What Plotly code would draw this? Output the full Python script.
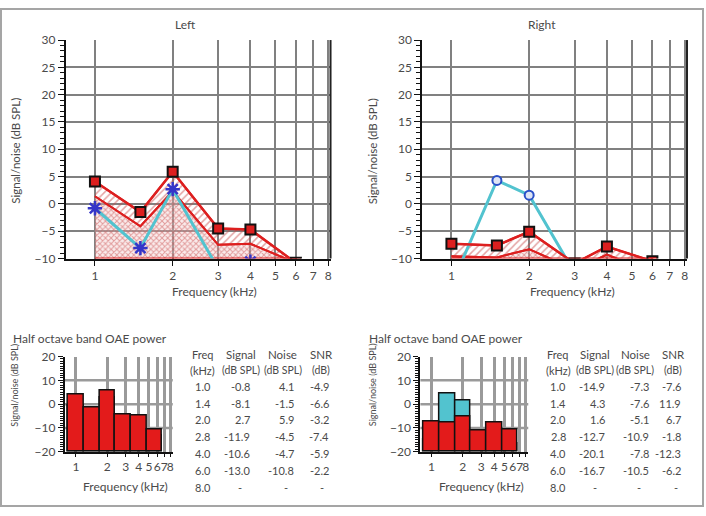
import numpy as np
import plotly.graph_objects as go

W, H = 706, 516
FONT = "Lato"
TXT = "#4a4a4a"

# ---------------- data ----------------
plot_freq = [1.0, 1.5, 2.0, 3.0, 4.0, 6.0]          # kHz positions used in the upper graphs
band_freq = [1.0, 1.414, 2.0, 2.828, 4.0, 5.657]    # half-octave band centres (bar graphs)
tick_freq = [1, 2, 3, 4, 5, 6, 7, 8]
tick_text = ["1", "2", "3", "4", "5", "6", "7", "8"]
table_freq = ["1.0", "1.4", "2.0", "2.8", "4.0", "6.0", "8.0"]

left_signal = [-0.8, -8.1, 2.7, -11.9, -10.6, -13.0]
left_noise = [4.1, -1.5, 5.9, -4.5, -4.7, -10.8]
left_snr = [-4.9, -6.6, -3.2, -7.4, -5.9, -2.2]
left_noise_low = [1.4, -4.1, 2.3, -7.5, -7.3, -10.8]

right_signal = [-14.9, 4.3, 1.6, -12.7, -20.1, -16.7]
right_noise = [-7.3, -7.6, -5.1, -10.9, -7.8, -10.5]
right_snr = [-7.6, 11.9, 6.7, -1.8, -12.3, -6.2]
right_noise_low = [-9.6, -9.8, -8.3, -12.0, -9.3, -12.5]

Y_FLOOR = -10
BAR_FLOOR = -20

# ---------------- helpers ----------------
def px(x):
    return x / W

def py(y):
    return 1 - y / H

RED = "#dd1f1f"
CYAN = "#52c3cf"
GRID = "#808080"

fig = go.Figure()


def upper_panel(n, signal, noise, low, sig_marker):
    xa = "x" if n == 1 else f"x{n}"
    ya = "y" if n == 1 else f"y{n}"
    # cross-hatched region: lower line down to the floor
    fig.add_trace(go.Scatter(
        x=plot_freq + plot_freq[::-1],
        y=low + [Y_FLOOR] * len(plot_freq),
        mode="lines", fill="toself",
        line=dict(color=RED, width=2),
        fillcolor="rgba(0,0,0,0)",
        fillpattern=dict(shape="x", fgcolor="#c84848", bgcolor="rgba(240,200,200,0.35)",
                         size=4, solidity=0.45),
        xaxis=xa, yaxis=ya, showlegend=False, hoverinfo="skip"))
    # diagonal hatched band between noise and lower line
    fig.add_trace(go.Scatter(
        x=plot_freq + plot_freq[::-1],
        y=noise + low[::-1],
        mode="lines", fill="toself",
        line=dict(color=RED, width=2),
        fillcolor="rgba(0,0,0,0)",
        fillpattern=dict(shape="/", fgcolor="#c84848", bgcolor="rgba(255,255,255,0)",
                         size=5, solidity=0.3),
        xaxis=xa, yaxis=ya, showlegend=False, hoverinfo="skip"))
    # signal line
    fig.add_trace(go.Scatter(
        x=plot_freq, y=signal, mode="lines+markers",
        line=dict(color=CYAN, width=3),
        marker=sig_marker,
        xaxis=xa, yaxis=ya, showlegend=False))
    # noise line on top
    fig.add_trace(go.Scatter(
        x=plot_freq, y=noise, mode="lines+markers",
        line=dict(color=RED, width=2.5),
        marker=dict(symbol="square", size=10, color=RED, line=dict(color="#111", width=2)),
        xaxis=xa, yaxis=ya, showlegend=False))


upper_panel(1, left_signal, left_noise, left_noise_low,
            dict(symbol="asterisk-open", size=12, color="#3535c8",
                 line=dict(color="#3535c8", width=2.5)))
upper_panel(2, right_signal, right_noise, right_noise_low,
            dict(symbol="circle", size=9, color="#dde4f4",
                 line=dict(color="#2a50c8", width=2)))

band_pos = list(np.log2(band_freq))


def bar_panel(n, signal, noise):
    xa, ya = f"x{n}", f"y{n}"
    fig.add_trace(go.Bar(
        x=band_pos, y=[max(v - BAR_FLOOR, 0) for v in signal], base=BAR_FLOOR,
        width=0.5, marker=dict(color=CYAN, line=dict(color="#111", width=1.5)),
        xaxis=xa, yaxis=ya, showlegend=False))
    fig.add_trace(go.Bar(
        x=band_pos, y=[max(v - BAR_FLOOR, 0) for v in noise], base=BAR_FLOOR,
        width=0.5, marker=dict(color="#e31b1b", line=dict(color="#111", width=1.5)),
        xaxis=xa, yaxis=ya, showlegend=False))


bar_panel(3, left_signal, left_noise)
bar_panel(4, right_signal, right_noise)

# ---------------- axes ----------------
tick_font = dict(family=FONT, size=12, color=TXT)
up_x = dict(type="log", range=[np.log10(0.772), np.log10(8.17)],
            tickvals=tick_freq, ticktext=tick_text, showgrid=True, tickangle=0,
            gridcolor=GRID, gridwidth=2, showline=True, linecolor="#111", linewidth=2,
            ticks="outside", ticklen=5, tickcolor="#111", tickfont=tick_font,
            zeroline=False)
up_y = dict(range=[-10, 30], dtick=5, showgrid=True, gridcolor=GRID, gridwidth=2,
            showline=True, linecolor="#111", linewidth=2, ticks="outside", ticklen=6,
            tickcolor="#111", tickfont=tick_font, zeroline=False,
            minor=dict(dtick=1, ticks="outside", ticklen=4, tickcolor="#111", showgrid=False))
lo_x = dict(range=[-0.35, 3.08], tickvals=list(np.log2(tick_freq)), ticktext=tick_text,
            tickangle=0, showgrid=True, gridcolor="#9a9a9a", gridwidth=2.5, showline=True,
            linecolor="#111", linewidth=2, ticks="outside", ticklen=3, tickcolor="#111",
            tickfont=tick_font, zeroline=False)
lo_y = dict(range=[-20, 20], tickvals=[-20, -10, 0, 10, 20], showgrid=False,
            showline=True, linecolor="#111", linewidth=2, ticks="outside", ticklen=5,
            tickcolor="#111", tickfont=tick_font, zeroline=False,
            minor=dict(dtick=1, ticks="outside", ticklen=3, tickcolor="#111", showgrid=False))

fig.update_layout(
    width=W, height=H, margin=dict(l=0, r=0, t=0, b=0),
    paper_bgcolor="white", plot_bgcolor="white", barmode="overlay", bargap=0,
    font=dict(family=FONT, color=TXT),
    xaxis=dict(domain=[px(66), px(331)], anchor="y", **up_x),
    yaxis=dict(domain=[py(258), py(33)], anchor="x", **up_y),
    xaxis2=dict(domain=[px(423), px(688)], anchor="y2", **up_x),
    yaxis2=dict(domain=[py(258), py(33)], anchor="x2", **up_y),
    xaxis3=dict(domain=[px(65), px(173)], anchor="y3", **lo_x),
    yaxis3=dict(domain=[py(457), py(359)], anchor="x3", **lo_y),
    xaxis4=dict(domain=[px(421), px(529)], anchor="y4", **lo_x),
    yaxis4=dict(domain=[py(457), py(359)], anchor="x4", **lo_y),
)

shapes = []
# outer frame
shapes.append(dict(type="rect", xref="paper", yref="paper", x0=px(1), x1=px(704),
                   y0=py(513), y1=py(1), line=dict(color="#a5a5a5", width=2)))
# right border of the upper graphs
for xa in ["x", "x2"]:
    shapes.append(dict(type="line", xref=f"{xa} domain", yref="paper", x0=1, x1=1,
                       y0=py(258), y1=py(33), line=dict(color="#222", width=2)))
# horizontal grid of the bar graphs
for n in [3, 4]:
    for gy in [-10, 0, 10]:
        shapes.append(dict(type="line", xref=f"x{n} domain", yref=f"y{n}", x0=0, x1=1,
                           y0=gy, y1=gy, layer="below",
                           line=dict(color="#9a9a9a", width=2.5)))
fig.update_layout(shapes=shapes)

ann = []


def text(x, y, s, size=12, xanchor="center", angle=0):
    ann.append(dict(x=px(x), y=py(y), xref="paper", yref="paper", text=s,
                    showarrow=False, xanchor=xanchor, yanchor="middle", textangle=angle,
                    font=dict(family=FONT, size=size, color=TXT)))


text(186, 17, "Left")
text(543, 17, "Right")
text(215, 292, "Frequency (kHz)")
text(573, 292, "Frequency (kHz)")
text(16, 147, "Signal/noise (dB SPL)", size=11.5, angle=-90)
text(373, 147, "Signal/noise (dB SPL)", size=11.5, angle=-90)

text(11, 340, "Half octave band OAE power", size=12, xanchor="left")
text(368, 340, "Half octave band OAE power", size=12, xanchor="left")
text(126, 493, "Frequency (kHz)")
text(482, 493, "Frequency (kHz)")
text(15, 388, "Signal/noise (dB SPL)", size=9, angle=-90)
text(373, 388, "Signal/noise (dB SPL)", size=9, angle=-90)

TS = 11


def table(freq_c, heads_c, vals_r, dash_c, signal, noise, snr):
    text(freq_c, 357, "Freq", size=TS)
    text(freq_c, 373, "(kHz)", size=TS)
    for c, a, b in zip(heads_c, ["Signal", "Noise", "SNR"], ["(dB SPL)", "(dB SPL)", "(dB)"]):
        text(c, 357, a, size=TS + 0.5)
        text(c, 373, b, size=TS - 0.5)
    for i, f in enumerate(table_freq):
        y = 389.5 + i * 17.4
        text(freq_c, y, f, size=TS)
        if i < len(signal):
            for r, v in zip(vals_r, [signal[i], noise[i], snr[i]]):
                text(r, y, f"{v:.1f}", size=TS, xanchor="right")
        else:
            for c in dash_c:
                text(c, y, "-", size=TS)


table(203, [241, 283, 321.5], [252, 296, 331], [240, 286, 322.7],
      left_signal, left_noise, left_snr)
table(559, [596, 636, 674], [608, 652, 684], [596, 640, 677],
      right_signal, right_noise, right_snr)

fig.update_layout(annotations=ann)
fig.write_html("out.html", config={"displayModeBar": False},
               post_script="document.body.style.margin='0px';document.body.style.overflow='hidden';")
